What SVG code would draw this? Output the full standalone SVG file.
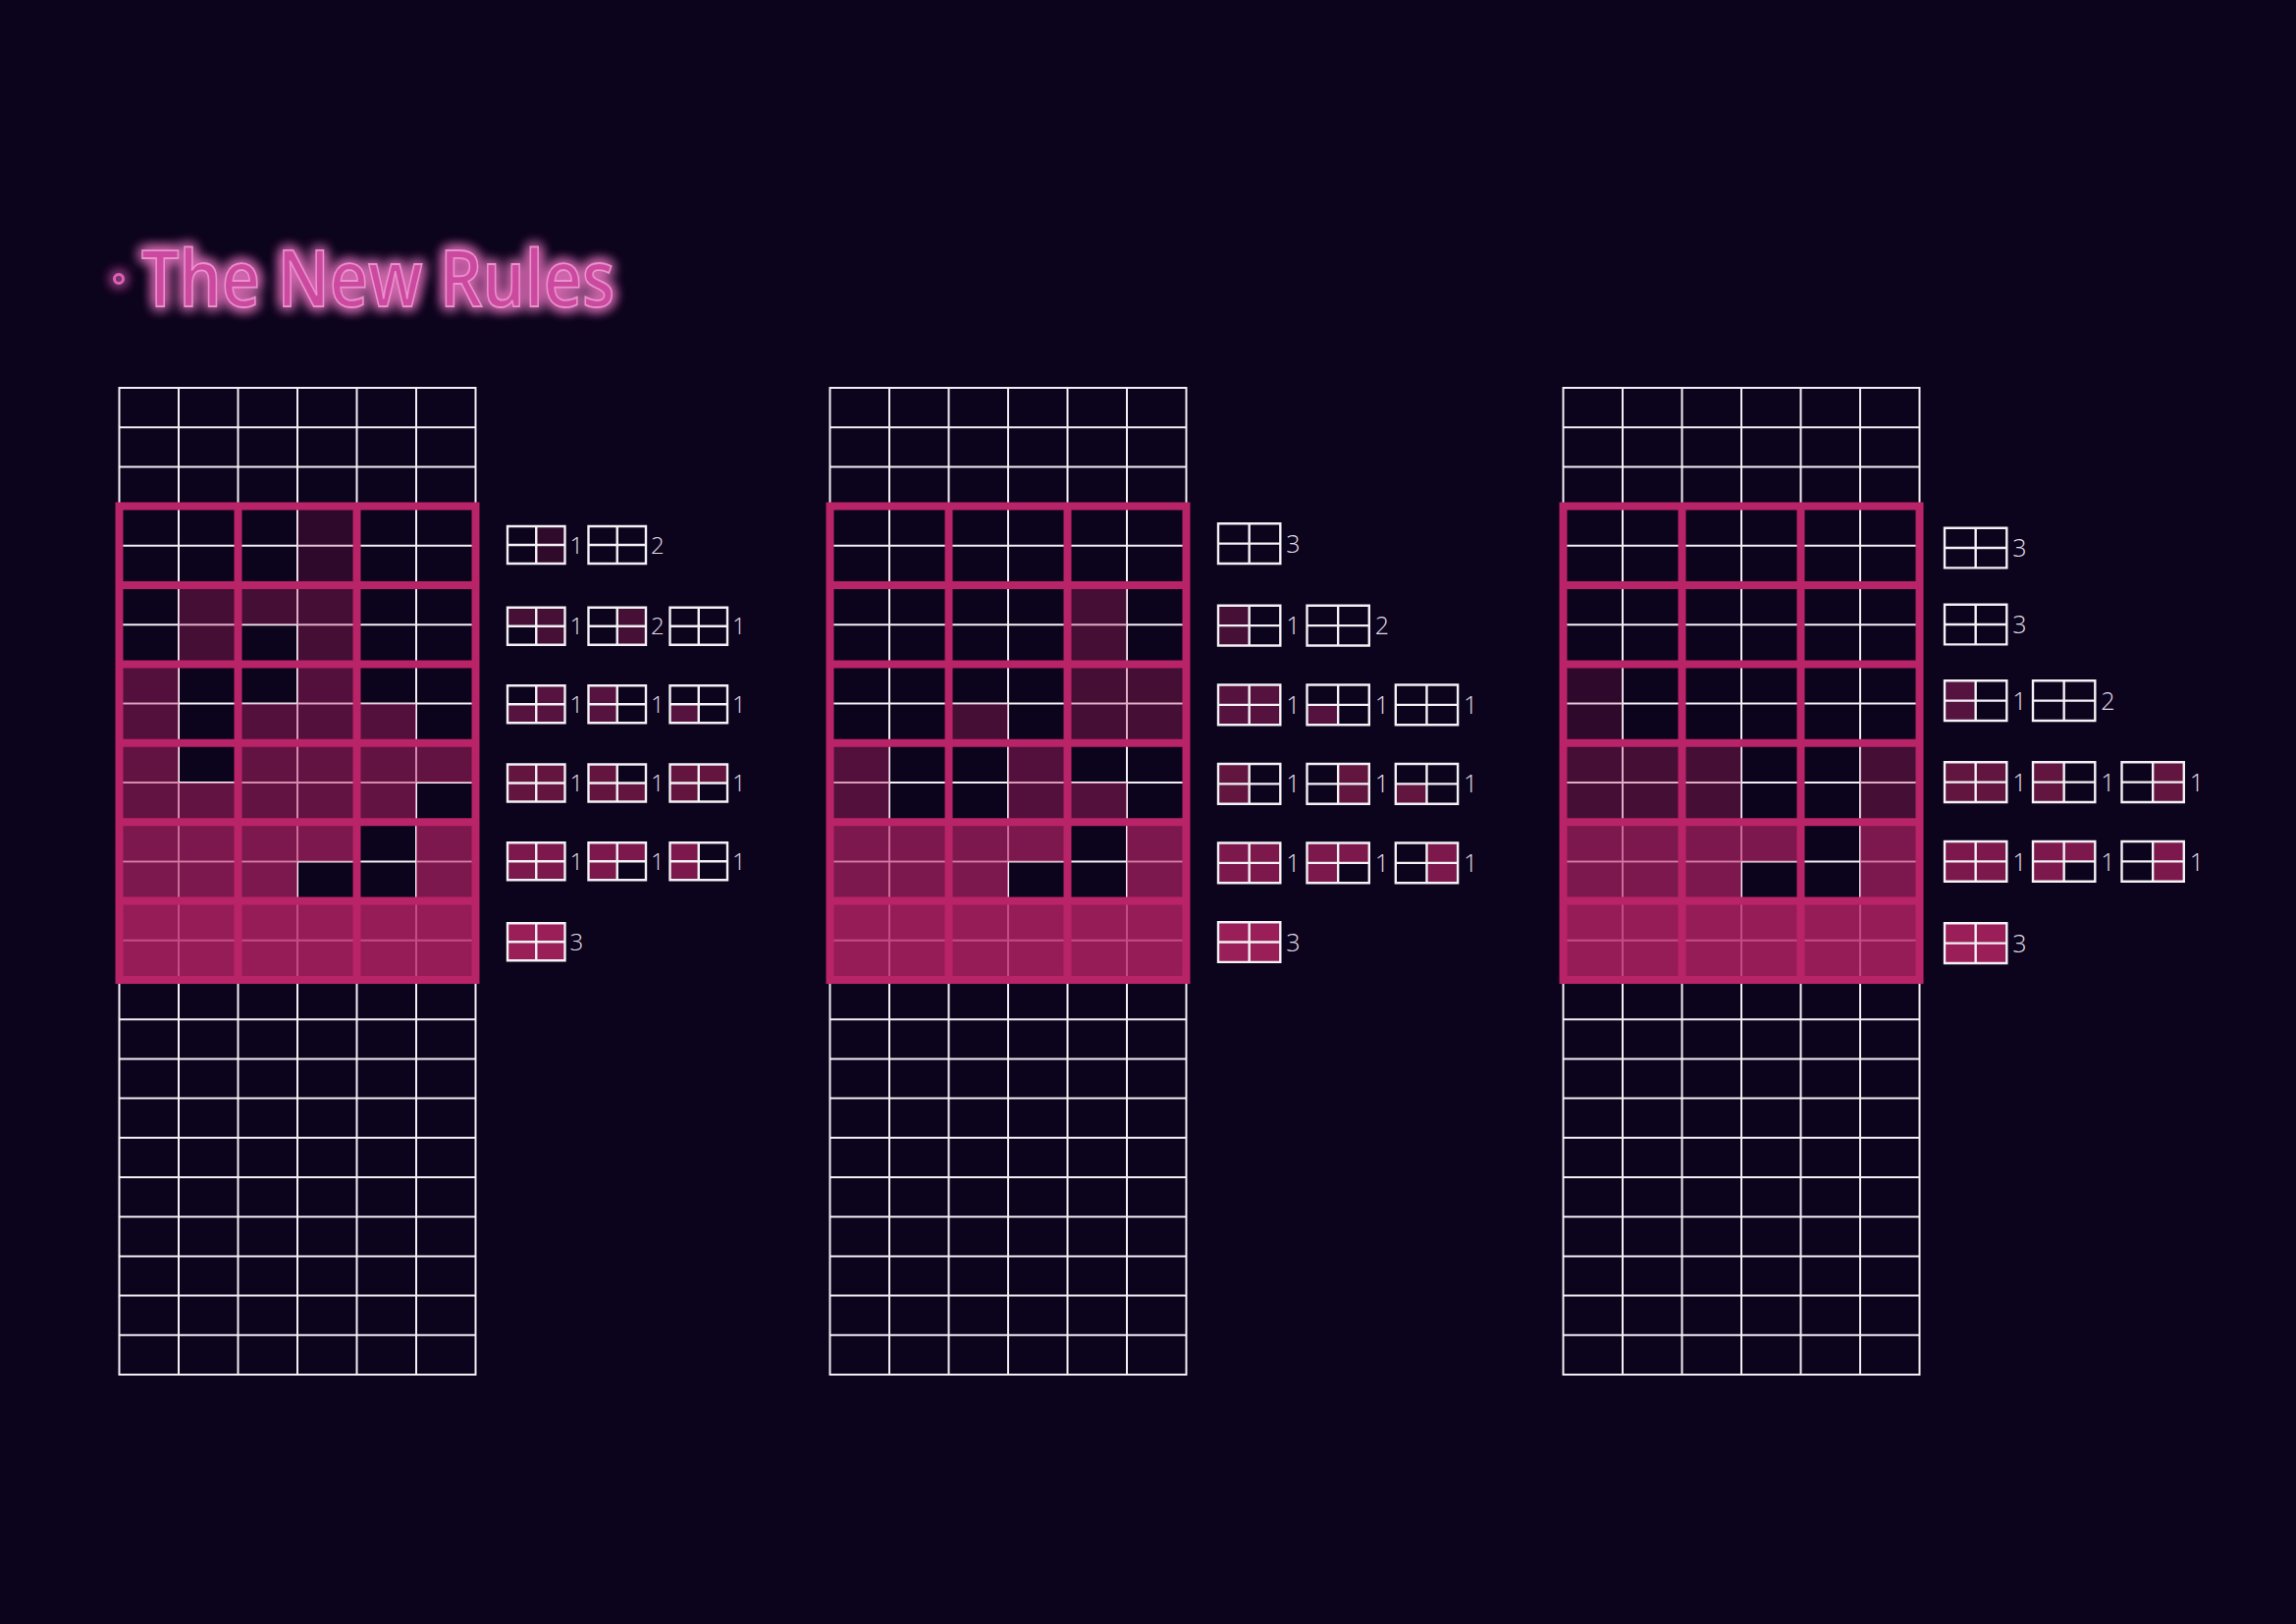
<svg xmlns="http://www.w3.org/2000/svg" xmlns:xlink="http://www.w3.org/1999/xlink" width="2339" height="1654" viewBox="0 0 2339 1654">
<style>
.gl{fill:none;stroke:#f1eff4;stroke-width:2;stroke-linecap:square}
.pf{fill:none;stroke:#b92368;stroke-width:8;stroke-linecap:square}
.l0{fill:#b92368;fill-opacity:.2}
.l1{fill:#b92368;fill-opacity:.33}
.l2{fill:#b92368;fill-opacity:.42}
.l3{fill:#b92368;fill-opacity:.5}
.l4{fill:#b92368;fill-opacity:.65}
.l5{fill:#b92368;fill-opacity:.8}
.ico{fill:none;stroke:#f3f1f5;stroke-width:2.4}
.n1{font-family:"Open Sans","Liberation Sans",sans-serif;font-weight:300;font-size:24px;fill:#e2dde8}
.n2{font-family:"Open Sans","Liberation Sans",sans-serif;font-weight:300;font-size:25px;fill:#e2dde8}
.title{font-family:"Open Sans","Liberation Sans",sans-serif;font-weight:600;font-size:80px;fill:#cc4aa0;stroke:#ea90cd;stroke-width:1.8}
</style>
<defs>
<filter id="glow" x="-10%" y="-50%" width="120%" height="200%">
<feGaussianBlur in="SourceGraphic" stdDeviation="7" result="b"/>
<feMerge><feMergeNode in="b"/><feMergeNode in="b"/><feMergeNode in="b"/><feMergeNode in="SourceGraphic"/></feMerge>
</filter>
<path id="gridlines" class="gl" d="M0 0H363M0 40.2H363M0 80.4H363M0 120.6H363M0 160.8H363M0 201H363M0 241.2H363M0 281.4H363M0 321.6H363M0 361.8H363M0 402H363M0 442.2H363M0 482.4H363M0 522.6H363M0 562.8H363M0 603H363M0 643.2H363M0 683.4H363M0 723.6H363M0 763.8H363M0 804H363M0 844.2H363M0 884.4H363M0 924.6H363M0 964.8H363M0 1005H363M0 0V1005M60.5 0V1005M121 0V1005M181.5 0V1005M242 0V1005M302.5 0V1005M363 0V1005"/>
<path id="frame" class="pf" d="M0 120.6H363V603H0ZM121 120.6V603M242 120.6V603M0 201H363M0 281.4H363M0 361.8H363M0 442.2H363M0 522.6H363"/>
<path id="ic1" class="ico" d="M0 0H58.5V38H0ZM29.25 0V38M0 19H58.5"/>
<path id="ic2" class="ico" d="M0 0H63.3V40.7H0ZM31.65 0V40.7M0 20.35H63.3"/>
</defs>
<rect width="2339" height="1654" fill="#0c031c"/>

<g id="title" filter="url(#glow)">
<circle cx="121" cy="284" r="4.5" fill="none" stroke="#dc60b4" stroke-width="3"/>
<text class="title" x="144" y="312" textLength="482" lengthAdjust="spacingAndGlyphs">The New Rules</text>
</g>

<g id="grid-1" transform="translate(121.5 395)">
<use xlink:href="#gridlines"/>
<rect class="l0" x="181.5" y="120.6" width="60.5" height="80.4"/>
<rect class="l1" x="60.5" y="201" width="181.5" height="40.2"/>
<rect class="l1" x="60.5" y="241.2" width="60.5" height="40.2"/>
<rect class="l1" x="181.5" y="241.2" width="60.5" height="40.2"/>
<rect class="l2" x="0" y="281.4" width="60.5" height="40.2"/>
<rect class="l2" x="181.5" y="281.4" width="60.5" height="40.2"/>
<rect class="l2" x="0" y="321.6" width="60.5" height="40.2"/>
<rect class="l2" x="121" y="321.6" width="181.5" height="40.2"/>
<rect class="l3" x="0" y="361.8" width="60.5" height="40.2"/>
<rect class="l3" x="121" y="361.8" width="242" height="40.2"/>
<rect class="l3" x="0" y="402" width="302.5" height="40.2"/>
<rect class="l4" x="0" y="442.2" width="242" height="40.2"/>
<rect class="l4" x="302.5" y="442.2" width="60.5" height="40.2"/>
<rect class="l4" x="0" y="482.4" width="181.5" height="40.2"/>
<rect class="l4" x="302.5" y="482.4" width="60.5" height="40.2"/>
<rect class="l5" x="0" y="522.6" width="363" height="80.4"/>
<use xlink:href="#frame"/>
</g>

<g id="grid-2" transform="translate(845.5 395)">
<use xlink:href="#gridlines"/>
<rect class="l1" x="242" y="201" width="60.5" height="80.4"/>
<rect class="l1" x="242" y="281.4" width="121" height="40.2"/>
<rect class="l1" x="121" y="321.6" width="60.5" height="40.2"/>
<rect class="l1" x="242" y="321.6" width="121" height="40.2"/>
<rect class="l2" x="0" y="361.8" width="60.5" height="40.2"/>
<rect class="l2" x="181.5" y="361.8" width="60.5" height="40.2"/>
<rect class="l2" x="0" y="402" width="60.5" height="40.2"/>
<rect class="l2" x="181.5" y="402" width="121" height="40.2"/>
<rect class="l4" x="0" y="442.2" width="242" height="40.2"/>
<rect class="l4" x="302.5" y="442.2" width="60.5" height="40.2"/>
<rect class="l4" x="0" y="482.4" width="181.5" height="40.2"/>
<rect class="l4" x="302.5" y="482.4" width="60.5" height="40.2"/>
<rect class="l5" x="0" y="522.6" width="363" height="80.4"/>
<use xlink:href="#frame"/>
</g>

<g id="grid-3" transform="translate(1592.5 395)">
<use xlink:href="#gridlines"/>
<rect class="l0" x="0" y="281.4" width="60.5" height="80.4"/>
<rect class="l1" x="0" y="361.8" width="181.5" height="80.4"/>
<rect class="l1" x="302.5" y="361.8" width="60.5" height="80.4"/>
<rect class="l4" x="0" y="442.2" width="242" height="40.2"/>
<rect class="l4" x="302.5" y="442.2" width="60.5" height="40.2"/>
<rect class="l4" x="0" y="482.4" width="181.5" height="40.2"/>
<rect class="l4" x="302.5" y="482.4" width="60.5" height="40.2"/>
<rect class="l5" x="0" y="522.6" width="363" height="80.4"/>
<use xlink:href="#frame"/>
</g>

<g id="legend-1">
<g id="l1-r0" fill="#300a2b">
<g transform="translate(517 536)"><rect x="29.25" width="29.25" height="38"/><use xlink:href="#ic1"/></g>
<g transform="translate(599.5 536)"><use xlink:href="#ic1"/></g>
<text class="n1" x="580.5" y="563.5">1</text><text class="n1" x="663" y="563.5">2</text>
</g>
<g id="l1-r1" fill="#460f35">
<g transform="translate(517 618.7)"><rect width="58.5" height="19"/><rect x="29.25" y="19" width="29.25" height="19"/><use xlink:href="#ic1"/></g>
<g transform="translate(599.5 618.7)"><rect x="29.25" width="29.25" height="38"/><use xlink:href="#ic1"/></g>
<g transform="translate(682.5 618.7)"><use xlink:href="#ic1"/></g>
<text class="n1" x="580.5" y="646.2">1</text><text class="n1" x="663" y="646.2">2</text><text class="n1" x="746" y="646.2">1</text>
</g>
<g id="l1-r2" fill="#56133f">
<g transform="translate(517 698.3)"><rect x="29.25" width="29.25" height="19"/><rect y="19" width="58.5" height="19"/><use xlink:href="#ic1"/></g>
<g transform="translate(599.5 698.3)"><rect width="29.25" height="38"/><use xlink:href="#ic1"/></g>
<g transform="translate(682.5 698.3)"><rect y="19" width="29.25" height="19"/><use xlink:href="#ic1"/></g>
<text class="n1" x="580.5" y="725.8">1</text><text class="n1" x="663" y="725.8">1</text><text class="n1" x="746" y="725.8">1</text>
</g>
<g id="l1-r3" fill="#63153f">
<g transform="translate(517 778.5)"><rect width="58.5" height="38"/><use xlink:href="#ic1"/></g>
<g transform="translate(599.5 778.5)"><rect width="29.25" height="38"/><rect x="29.25" y="19" width="29.25" height="19"/><use xlink:href="#ic1"/></g>
<g transform="translate(682.5 778.5)"><rect width="58.5" height="19"/><rect y="19" width="29.25" height="19"/><use xlink:href="#ic1"/></g>
<text class="n1" x="580.5" y="806">1</text><text class="n1" x="663" y="806">1</text><text class="n1" x="746" y="806">1</text>
</g>
<g id="l1-r4" fill="#7d184d">
<g transform="translate(517 858.2)"><rect width="58.5" height="38"/><use xlink:href="#ic1"/></g>
<g transform="translate(599.5 858.2)"><rect width="58.5" height="19"/><rect y="19" width="29.25" height="19"/><use xlink:href="#ic1"/></g>
<g transform="translate(682.5 858.2)"><rect width="29.25" height="38"/><use xlink:href="#ic1"/></g>
<text class="n1" x="580.5" y="885.7">1</text><text class="n1" x="663" y="885.7">1</text><text class="n1" x="746" y="885.7">1</text>
</g>
<g id="l1-r5" fill="#9a1e58">
<g transform="translate(517 940.3)"><rect width="58.5" height="38"/><use xlink:href="#ic1"/></g>
<text class="n1" x="580.5" y="967.8">3</text>
</g>
</g>

<g id="legend-2">
<g id="l2-r0">
<g transform="translate(1241 533.3)"><use xlink:href="#ic2"/></g>
<text class="n2" x="1310.3" y="562.7">3</text>
</g>
<g id="l2-r1" fill="#460f35">
<g transform="translate(1241 616.8)"><rect width="31.65" height="40.7"/><use xlink:href="#ic2"/></g>
<g transform="translate(1331.5 616.8)"><use xlink:href="#ic2"/></g>
<text class="n2" x="1310.3" y="646.2">1</text><text class="n2" x="1400.8" y="646.2">2</text>
</g>
<g id="l2-r2" fill="#55123f">
<g transform="translate(1241 697.5)"><rect width="63.3" height="40.7"/><use xlink:href="#ic2"/></g>
<g transform="translate(1331.5 697.5)"><rect y="20.35" width="31.65" height="20.35"/><use xlink:href="#ic2"/></g>
<g transform="translate(1421.8 697.5)"><use xlink:href="#ic2"/></g>
<text class="n2" x="1310.3" y="726.8">1</text><text class="n2" x="1400.8" y="726.8">1</text><text class="n2" x="1491.1" y="726.8">1</text>
</g>
<g id="l2-r3" fill="#61153f">
<g transform="translate(1241 778)"><rect width="31.65" height="40.7"/><use xlink:href="#ic2"/></g>
<g transform="translate(1331.5 778)"><rect x="31.65" width="31.65" height="40.7"/><use xlink:href="#ic2"/></g>
<g transform="translate(1421.8 778)"><rect y="20.35" width="31.65" height="20.35"/><use xlink:href="#ic2"/></g>
<text class="n2" x="1310.3" y="807.3">1</text><text class="n2" x="1400.8" y="807.3">1</text><text class="n2" x="1491.1" y="807.3">1</text>
</g>
<g id="l2-r4" fill="#7d184d">
<g transform="translate(1241 858.5)"><rect width="63.3" height="40.7"/><use xlink:href="#ic2"/></g>
<g transform="translate(1331.5 858.5)"><rect width="63.3" height="20.35"/><rect y="20.35" width="31.65" height="20.35"/><use xlink:href="#ic2"/></g>
<g transform="translate(1421.8 858.5)"><rect x="31.65" width="31.65" height="40.7"/><use xlink:href="#ic2"/></g>
<text class="n2" x="1310.3" y="887.8">1</text><text class="n2" x="1400.8" y="887.8">1</text><text class="n2" x="1491.1" y="887.8">1</text>
</g>
<g id="l2-r5" fill="#9a1e58">
<g transform="translate(1241 939.2)"><rect width="63.3" height="40.7"/><use xlink:href="#ic2"/></g>
<text class="n2" x="1310.3" y="968.5">3</text>
</g>
</g>

<g id="legend-3">
<g id="l3-r0">
<g transform="translate(1981 537.7)"><use xlink:href="#ic2"/></g>
<text class="n2" x="2050.3" y="567.2">3</text>
</g>
<g id="l3-r1">
<g transform="translate(1981 615.7)"><use xlink:href="#ic2"/></g>
<text class="n2" x="2050.3" y="645.2">3</text>
</g>
<g id="l3-r2" fill="#56133f">
<g transform="translate(1981 693.3)"><rect width="31.65" height="40.7"/><use xlink:href="#ic2"/></g>
<g transform="translate(2071 693.3)"><use xlink:href="#ic2"/></g>
<text class="n2" x="2050.3" y="722.8">1</text><text class="n2" x="2140.3" y="722.8">2</text>
</g>
<g id="l3-r3" fill="#62153f">
<g transform="translate(1981 776.3)"><rect width="63.3" height="40.7"/><use xlink:href="#ic2"/></g>
<g transform="translate(2071 776.3)"><rect width="31.65" height="40.7"/><use xlink:href="#ic2"/></g>
<g transform="translate(2161.5 776.3)"><rect x="31.65" width="31.65" height="40.7"/><use xlink:href="#ic2"/></g>
<text class="n2" x="2050.3" y="805.8">1</text><text class="n2" x="2140.3" y="805.8">1</text><text class="n2" x="2230.8" y="805.8">1</text>
</g>
<g id="l3-r4" fill="#7d184d">
<g transform="translate(1981 857)"><rect width="63.3" height="40.7"/><use xlink:href="#ic2"/></g>
<g transform="translate(2071 857)"><rect width="63.3" height="20.35"/><rect y="20.35" width="31.65" height="20.35"/><use xlink:href="#ic2"/></g>
<g transform="translate(2161.5 857)"><rect x="31.65" width="31.65" height="40.7"/><use xlink:href="#ic2"/></g>
<text class="n2" x="2050.3" y="886.5">1</text><text class="n2" x="2140.3" y="886.5">1</text><text class="n2" x="2230.8" y="886.5">1</text>
</g>
<g id="l3-r5" fill="#9a1e58">
<g transform="translate(1981 940.3)"><rect width="63.3" height="40.7"/><use xlink:href="#ic2"/></g>
<text class="n2" x="2050.3" y="969.8">3</text>
</g>
</g>
</svg>
